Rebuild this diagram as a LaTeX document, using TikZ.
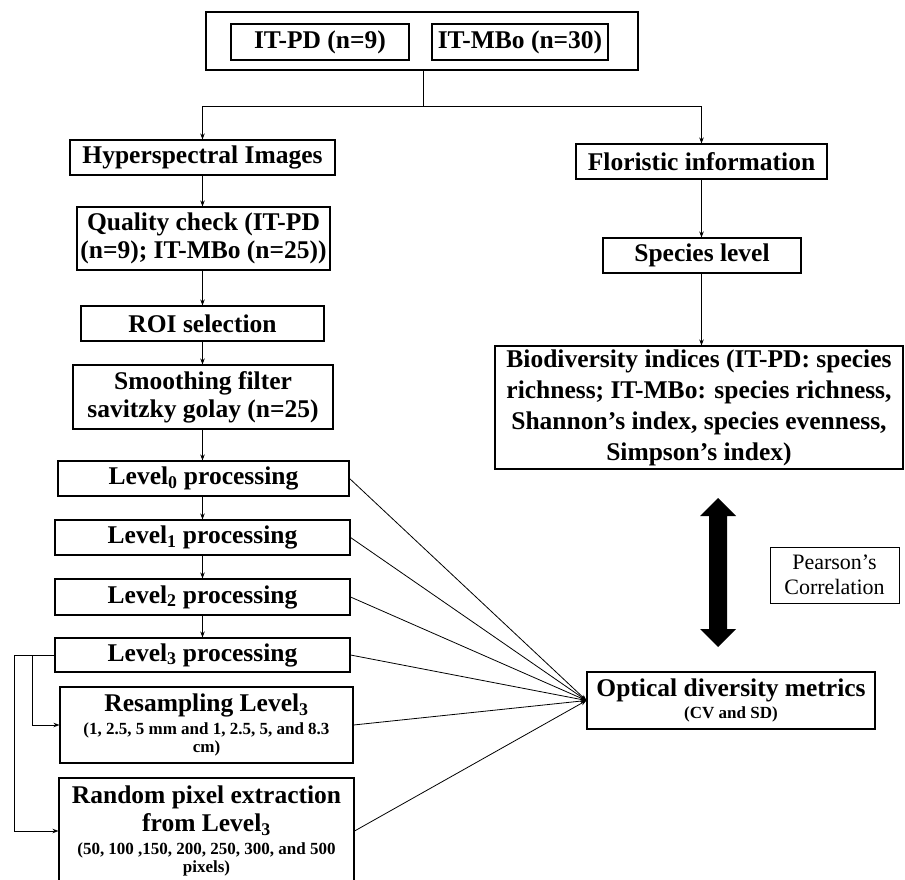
\documentclass[tikz,border=0pt]{standalone}
\usepackage{fontspec}
\setmainfont{Liberation Serif}
\usetikzlibrary{arrows.meta,calc}
\tikzset{
  box/.style={draw=black, line width=1.1pt, rectangle, inner sep=2pt, align=center,
    font=\fontsize{25.5}{28}\selectfont\bfseries},
  conn/.style={line width=0.8pt, -{Stealth[length=6pt,width=4.5pt]}},
  plain/.style={line width=0.8pt}
}
\newcommand{\smalltext}[1]{{\fontsize{17}{19}\selectfont\bfseries #1}}
\begin{document}
\begin{tikzpicture}[x=1pt,y=-1pt]
\useasboundingbox (0,0) rectangle (905,880);
\begin{scope}
\clip (0,0) rectangle (905,880);
% top group
\node[box, minimum width=432pt, minimum height=58pt] (top) at (422,41) {};
\node[box, minimum width=178pt, minimum height=36pt] (itpd) at (320,42) {IT-PD (n=9)};
\node[box, minimum width=176pt, minimum height=36pt] (itmbo) at (520,42) {IT-MBo (n=30)};
% left column
\node[box, minimum width=265pt, minimum height=35pt] (hyper) at (202.5,157.5) {Hyperspectral Images};
\node[box, minimum width=253pt, minimum height=63pt] (quality) at (203.5,238.5) {Quality check (IT-PD\\(n=9); IT-MBo (n=25))};
\node[box, minimum width=243pt, minimum height=35pt] (roi) at (202.5,323.5) {ROI selection};
\node[box, minimum width=260pt, minimum height=64pt] (smooth) at (203,397) {Smoothing filter\\savitzky golay (n=25)};
\node[box, minimum width=291pt, minimum height=35pt] (l0) at (203.5,478.5) {Level\textsubscript{0} processing};
\node[box, minimum width=295pt, minimum height=35pt] (l1) at (202.5,537.5) {Level\textsubscript{1} processing};
\node[box, minimum width=295pt, minimum height=36pt] (l2) at (202.5,597) {Level\textsubscript{2} processing};
\node[box, minimum width=295pt, minimum height=34pt] (l3) at (202.5,655) {Level\textsubscript{3} processing};
\node[box, minimum width=293pt, minimum height=76pt] (resamp) at (206.5,725) {Resampling Level\textsubscript{3}\\[-5pt]\smalltext{(1, 2.5, 5 mm and 1, 2.5, 5, and 8.3}\\[-10pt]\smalltext{cm)}};
\node[box, minimum width=295pt, minimum height=106pt] (random) at (206.5,831) {Random pixel extraction\\from Level\textsubscript{3}\\[-5pt]\smalltext{(50, 100 ,150, 200, 250, 300, and 500}\\[-10pt]\smalltext{pixels)}};
% right column
\node[box, minimum width=251pt, minimum height=35pt] (flor) at (701.5,161.5) {Floristic information};
\node[box, minimum width=198pt, minimum height=35pt] (species) at (702,255.5) {Species level};
\node[box, minimum width=408pt, minimum height=123pt, font=\fontsize{25.5}{31}\selectfont\bfseries] (bio) at (699,407.5) {Biodiversity indices (IT-PD: species\\richness; IT-MBo: species richness,\\Shannon's index, species evenness,\\Simpson's index)};
\node[box, minimum width=288pt, minimum height=57pt] (optical) at (731,700.5) {Optical diversity metrics\\[-6pt]\smalltext{(CV and SD)}};
\node[box, line width=0.8pt, minimum width=129pt, minimum height=56pt, font=\fontsize{22}{25}\selectfont] (pearson) at (834.5,575) {Pearson's\\Correlation};
% double arrow
\fill[black] (718,498) -- (736,516) -- (727,516) -- (727,629) -- (736,629) -- (718,647)
  -- (700,629) -- (709,629) -- (709,516) -- (700,516) -- cycle;
% connectors
\coordinate (j) at (423,106);
\draw[plain] (top.south -| j) -- (j);
\draw[conn] (j) -| (hyper.north);
\draw[conn] (j) -| (flor.north);
\draw[conn] (hyper.south) -- (hyper.south |- quality.north);
\draw[conn] (hyper.south |- quality.south) -- (hyper.south |- roi.north);
\draw[conn] (roi.south) -- (roi.south |- smooth.north);
\draw[conn] (roi.south |- smooth.south) -- (roi.south |- l0.north);
\draw[conn] (roi.south |- l0.south) -- (roi.south |- l1.north);
\draw[conn] (roi.south |- l1.south) -- (roi.south |- l2.north);
\draw[conn] (roi.south |- l2.south) -- (roi.south |- l3.north);
\draw[conn] (flor.south) -- (flor.south |- species.north);
\draw[conn] (flor.south |- species.south) -- (flor.south |- bio.north);
\draw[conn] (l3.west) -- ++(-40,0) |- (random.west);
\draw[conn] ($(l3.west)+(-22,0)$) |- (resamp.west);
\draw[conn] (l0.east) -- (optical.west);
\draw[conn] (l1.east) -- (optical.west);
\draw[conn] (l2.east) -- (optical.west);
\draw[conn] (l3.east) -- (optical.west);
\draw[conn] (resamp.east) -- (optical.west);
\draw[conn] (random.east) -- (optical.west);
\end{scope}
\end{tikzpicture}
\end{document}
